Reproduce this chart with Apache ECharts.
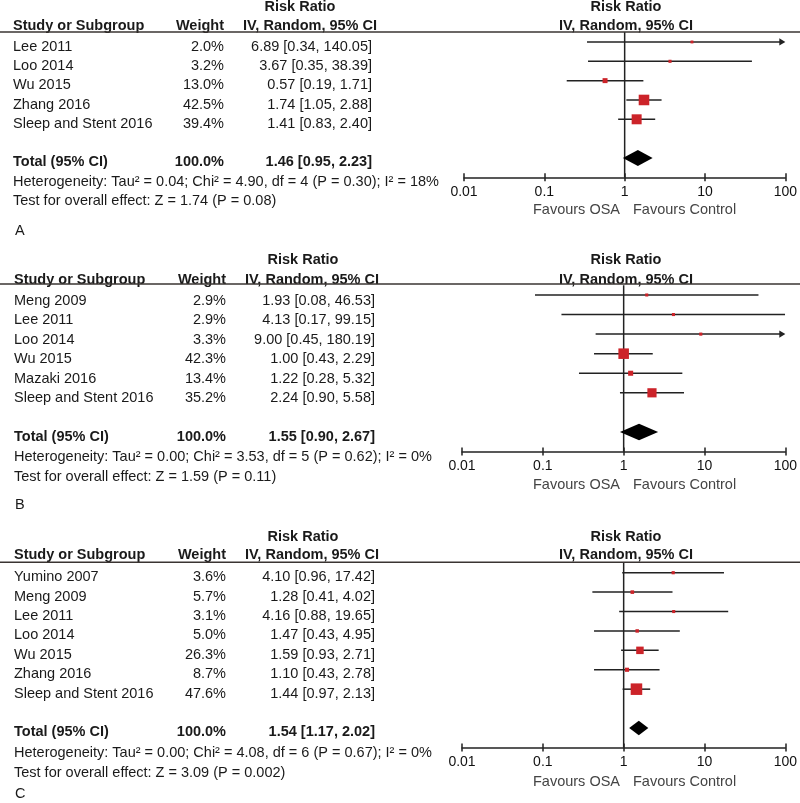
<!DOCTYPE html>
<html>
<head>
<meta charset="utf-8">
<script src="https://cdn.jsdelivr.net/npm/echarts@6/dist/echarts.min.js"></script>
<style>html,body{margin:0;padding:0;background:#fff;}#c{width:800px;height:803px;}</style>
</head>
<body>
<div id="c"></div>
<script>
// ---------- DATA ----------
var tickLabels = ['0.01', '0.1', '1', '10', '100'];

var studiesA = ['Lee 2011', 'Loo 2014', 'Wu 2015', 'Zhang 2016', 'Sleep and Stent 2016'];
var weightA = [2.0, 3.2, 13.0, 42.5, 39.4];
var rrA = [6.89, 3.67, 0.57, 1.74, 1.41];
var loA = [0.34, 0.35, 0.19, 1.05, 0.83];
var hiA = [140.05, 38.39, 1.71, 2.88, 2.40];
var totalA = [1.46, 0.95, 2.23];
var hetA = 'Heterogeneity: Tau\u00B2 = 0.04; Chi\u00B2 = 4.90, df = 4 (P = 0.30); I\u00B2 = 18%';
var testA = 'Test for overall effect: Z = 1.74 (P = 0.08)';

var studiesB = ['Meng 2009', 'Lee 2011', 'Loo 2014', 'Wu 2015', 'Mazaki 2016', 'Sleep and Stent 2016'];
var weightB = [2.9, 2.9, 3.3, 42.3, 13.4, 35.2];
var rrB = [1.93, 4.13, 9.00, 1.00, 1.22, 2.24];
var loB = [0.08, 0.17, 0.45, 0.43, 0.28, 0.90];
var hiB = [46.53, 99.15, 180.19, 2.29, 5.32, 5.58];
var totalB = [1.55, 0.90, 2.67];
var hetB = 'Heterogeneity: Tau\u00B2 = 0.00; Chi\u00B2 = 3.53, df = 5 (P = 0.62); I\u00B2 = 0%';
var testB = 'Test for overall effect: Z = 1.59 (P = 0.11)';

var studiesC = ['Yumino 2007', 'Meng 2009', 'Lee 2011', 'Loo 2014', 'Wu 2015', 'Zhang 2016', 'Sleep and Stent 2016'];
var weightC = [3.6, 5.7, 3.1, 5.0, 26.3, 8.7, 47.6];
var rrC = [4.10, 1.28, 4.16, 1.47, 1.59, 1.10, 1.44];
var loC = [0.96, 0.41, 0.88, 0.43, 0.93, 0.43, 0.97];
var hiC = [17.42, 4.02, 19.65, 4.95, 2.71, 2.78, 2.13];
var totalC = [1.54, 1.17, 2.02];
var hetC = 'Heterogeneity: Tau\u00B2 = 0.00; Chi\u00B2 = 4.08, df = 6 (P = 0.67); I\u00B2 = 0%';
var testC = 'Test for overall effect: Z = 3.09 (P = 0.002)';

var letters = ['A', 'B', 'C'];
var xMin = 0.01, xMax = 100;

// ---------- LAYOUT ----------
var FONT = '"Liberation Sans", Arial, Helvetica, sans-serif';
var FS = '14.5px ';
var TXT = '#1a1a1a';
var RED = '#cc2329';
var LINE = '#222';

var panels = [
  { studies: studiesA, weight: weightA, rr: rrA, lo: loA, hi: hiA, total: totalA, het: hetA, test: testA,
    L: { rrTitleY: 7, hdrY: 26, lineY: 32, row0: 47, rowH: 19.2, hetY: 182, testY: 201, letterY: 231,
         nameX: 13, wX: 224, ciX: 372, ivX: 243, rrX: 300,
         gLeft: 464, gWidth: 322, gTop: 32.3, gHeight: 145, favY: 210, rTitleY: 7, rIvY: 26, diamH: 8 } },
  { studies: studiesB, weight: weightB, rr: rrB, lo: loB, hi: hiB, total: totalB, het: hetB, test: testB,
    L: { rrTitleY: 260, hdrY: 280, lineY: 284, row0: 300.7, rowH: 19.46, hetY: 457, testY: 477, letterY: 505,
         nameX: 14, wX: 226, ciX: 375, ivX: 245, rrX: 303,
         gLeft: 462, gWidth: 324, gTop: 285.2, gHeight: 166.3, favY: 485, rTitleY: 260, rIvY: 280, diamH: 8.3 } },
  { studies: studiesC, weight: weightC, rr: rrC, lo: loC, hi: hiC, total: totalC, het: hetC, test: testC,
    L: { rrTitleY: 537, hdrY: 555, lineY: 562.3, row0: 577.3, rowH: 19.375, hetY: 753, testY: 773, letterY: 794,
         nameX: 14, wX: 226, ciX: 375, ivX: 245, rrX: 303,
         gLeft: 462, gWidth: 325, gTop: 563, gHeight: 184.4, favY: 782, rTitleY: 537, rIvY: 555, diamH: 7.3 } }
];

function txt(text, x, y, align, bold, color) {
  return {
    type: 'text', x: x, y: y, silent: true,
    style: {
      text: text, fill: color || TXT,
      font: (bold ? 'bold ' : '') + FS + FONT,
      textAlign: align || 'left', align: align || 'left',
      textVerticalAlign: 'middle', verticalAlign: 'middle'
    }
  };
}
function ciStr(a, b, c) { return a.toFixed(2) + ' [' + b.toFixed(2) + ', ' + c.toFixed(2) + ']'; }

var graphics = [];
var grids = [], xAxes = [], yAxes = [], series = [];

panels.forEach(function (p, k) {
  var L = p.L;
  var n = p.studies.length;
  var totalRow = n + 1;
  graphics.push(txt('Risk Ratio', L.rrX, L.rrTitleY, 'center', true));
  graphics.push(txt('Study or Subgroup', L.nameX, L.hdrY, 'left', true));
  graphics.push(txt('Weight', L.wX, L.hdrY, 'right', true));
  graphics.push(txt('IV, Random, 95% CI', L.ivX, L.hdrY, 'left', true));
  graphics.push(txt('Risk Ratio', 626, L.rTitleY, 'center', true));
  graphics.push(txt('IV, Random, 95% CI', 626, L.rIvY, 'center', true));
  graphics.push({ type: 'line', silent: true, shape: { x1: 0, y1: L.lineY, x2: 800, y2: L.lineY },
    style: { stroke: '#3a3432', lineWidth: 1.6 } });
  for (var i = 0; i < n; i++) {
    var y = L.row0 + i * L.rowH;
    graphics.push(txt(p.studies[i], L.nameX, y, 'left', false));
    graphics.push(txt(p.weight[i].toFixed(1) + '%', L.wX, y, 'right', false));
    graphics.push(txt(ciStr(p.rr[i], p.lo[i], p.hi[i]), L.ciX, y, 'right', false));
  }
  var ty = L.row0 + totalRow * L.rowH;
  graphics.push(txt('Total (95% CI)', L.nameX, ty, 'left', true));
  graphics.push(txt('100.0%', L.wX, ty, 'right', true));
  graphics.push(txt(ciStr(p.total[0], p.total[1], p.total[2]), L.ciX, ty, 'right', true));
  graphics.push(txt(p.het, L.nameX, L.hetY, 'left', false));
  graphics.push(txt(p.test, L.nameX, L.testY, 'left', false));
  graphics.push(txt(letters[k], 15, L.letterY, 'left', false));
  graphics.push(txt('Favours OSA', 620, L.favY, 'right', false, '#444'));
  graphics.push(txt('Favours Control', 633, L.favY, 'left', false, '#444'));

  grids.push({ left: L.gLeft, width: L.gWidth, top: L.gTop, height: L.gHeight });
  xAxes.push({
    type: 'log', logBase: 10, min: xMin, max: xMax, gridIndex: k, position: 'bottom',
    axisLine: { show: true, onZero: false, lineStyle: { color: LINE, width: 1.5 } },
    axisTick: { show: true, inside: false, length: 4, lineStyle: { color: LINE, width: 1.5 } },
    axisLabel: { show: true, margin: 8, color: '#111', fontSize: 14, fontFamily: FONT,
      formatter: function (v) { return tickLabels[Math.round(Math.log10(v)) + 2]; } },
    splitLine: { show: false }
  });
  xAxes.push({
    type: 'log', logBase: 10, min: xMin, max: xMax, gridIndex: k, position: 'bottom',
    axisLine: { show: false, onZero: false },
    axisTick: { show: true, inside: true, length: 4, lineStyle: { color: LINE, width: 1.5 } },
    axisLabel: { show: false }, splitLine: { show: false }
  });
  yAxes.push({ type: 'value', inverse: true, min: -0.5, max: totalRow + 1, gridIndex: k, show: false,
    axisLine: { onZero: false } });

  var xi0 = 2 * k;
  series.push({
    type: 'line', xAxisIndex: xi0, yAxisIndex: k, symbol: 'none', silent: true, z: 1,
    data: [[1, -0.5], [1, totalRow + 1]],
    lineStyle: { color: LINE, width: 1.5 }
  });
  var sd = [];
  for (var j = 0; j < n; j++) sd.push([p.rr[j], j, p.lo[j], p.hi[j], p.weight[j]]);
  series.push({
    type: 'custom', xAxisIndex: xi0, yAxisIndex: k, silent: true, z: 3,
    data: sd, encode: { x: 0, y: 1 },
    renderItem: function (params, api) {
      var rr = api.value(0), row = api.value(1), lo = api.value(2), hi = api.value(3), w = api.value(4);
      var arrow = hi > xMax;
      var p0 = api.coord([Math.max(lo, xMin), row]);
      var p1 = api.coord([Math.min(hi, xMax), row]);
      var pc = api.coord([rr, row]);
      var s = 2.5 + 0.19 * w;
      var ch = [];
      ch.push({ type: 'line', shape: { x1: p0[0], y1: p0[1], x2: arrow ? p1[0] - 3 : p1[0], y2: p1[1] },
        style: { stroke: LINE, lineWidth: 1.5 } });
      if (arrow) {
        ch.push({ type: 'polygon', shape: { points: [[p1[0] - 6, p1[1] - 3.6], [p1[0], p1[1]], [p1[0] - 6, p1[1] + 3.6]] },
          style: { fill: LINE } });
      }
      ch.push({ type: 'rect', shape: { x: pc[0] - s / 2, y: pc[1] - s / 2, width: s, height: s },
        style: { fill: RED } });
      return { type: 'group', children: ch };
    }
  });
  var dh = L.diamH;
  series.push({
    type: 'custom', xAxisIndex: xi0, yAxisIndex: k, silent: true, z: 4,
    data: [[p.total[0], totalRow, p.total[1], p.total[2]]], encode: { x: 0, y: 1 },
    renderItem: function (params, api) {
      var row = api.value(1);
      var pc = api.coord([api.value(0), row]);
      var pl = api.coord([api.value(2), row]);
      var ph = api.coord([api.value(3), row]);
      return { type: 'polygon', shape: { points: [pl, [pc[0], pc[1] - dh], ph, [pc[0], pc[1] + dh]] },
        style: { fill: '#000' } };
    }
  });
});

var chart = echarts.init(document.getElementById('c'), null, { renderer: 'canvas' });
chart.setOption({
  animation: false,
  backgroundColor: '#fff',
  grid: grids, xAxis: xAxes, yAxis: yAxes, series: series,
  graphic: { elements: graphics }
});
</script>
</body>
</html>
